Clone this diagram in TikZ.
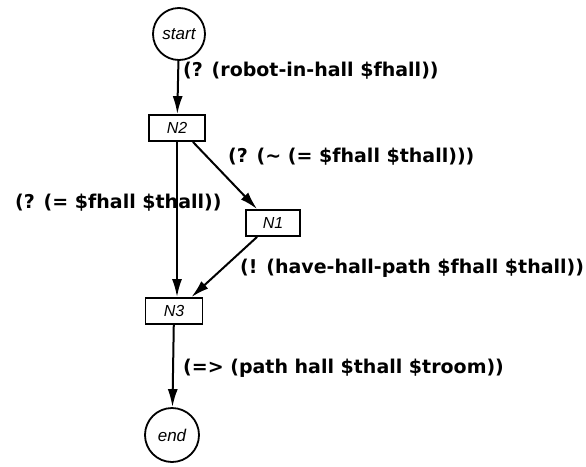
\documentclass[tikz,border=0pt]{standalone}
\usepackage{fontspec}
\setmainfont{DejaVu Sans}
\newfontfamily\labfont{DejaVu Sans}
\newfontfamily\nodefont{Liberation Sans}
\usetikzlibrary{arrows.meta}
\tikzset{
  state/.style={circle,draw,line width=1.8pt,minimum size=52pt,inner sep=0pt,font=\nodefont\itshape\fontsize{17}{19}\selectfont},
  box/.style={rectangle,draw,line width=1.8pt,minimum width=56pt,minimum height=26pt,inner sep=0pt,font=\nodefont\itshape\fontsize{16}{18}\selectfont},
  lab/.style={anchor=west,inner sep=0pt,font=\labfont\bfseries\fontsize{19}{21}\selectfont},
  arr/.style={-{Latex[length=18pt,width=10pt]},line width=2pt}
}
\begin{document}
\begin{tikzpicture}[x=1pt,y=-1pt]
\useasboundingbox (0,0) rectangle (586,466);
\node[state] (start) at (179,34) {start};
\node[box] (N2) at (177,128) {N2};
\node[box,minimum width=54pt] (N1) at (273,223) {N1};
\node[box,minimum width=57pt] (N3) at (174,311) {N3};
\node[state,minimum size=54pt] (end) at (172,435) {end};

\draw[arr] (start) -- (N2);
\draw[arr] (N2.south) -- (N2.south |- N3.north);
\draw[arr] ([xshift=-13pt]N2.south east) -- ([xshift=12pt]N1.north west);
\draw[arr] ([xshift=12pt]N1.south west) -- ([xshift=-12pt]N3.north east);
\draw[arr] (N3) -- (end);

\node[lab] (l1) at (183,71) {(? (robot-in-hall \$fhall))};
\node[lab] (l2) at (228,157) {(? (\textasciitilde\ (= \$fhall \$thall)))};
\node[lab] (l3) at (15,203) {(? (= \$fhall \$thall))};
\node[lab] (l4) at (240,268) {(! (have-hall-path \$fhall \$thall))};
\node[lab] (l5) at (183,368) {(=> (path hall \$thall \$troom))};
\end{tikzpicture}
\end{document}
